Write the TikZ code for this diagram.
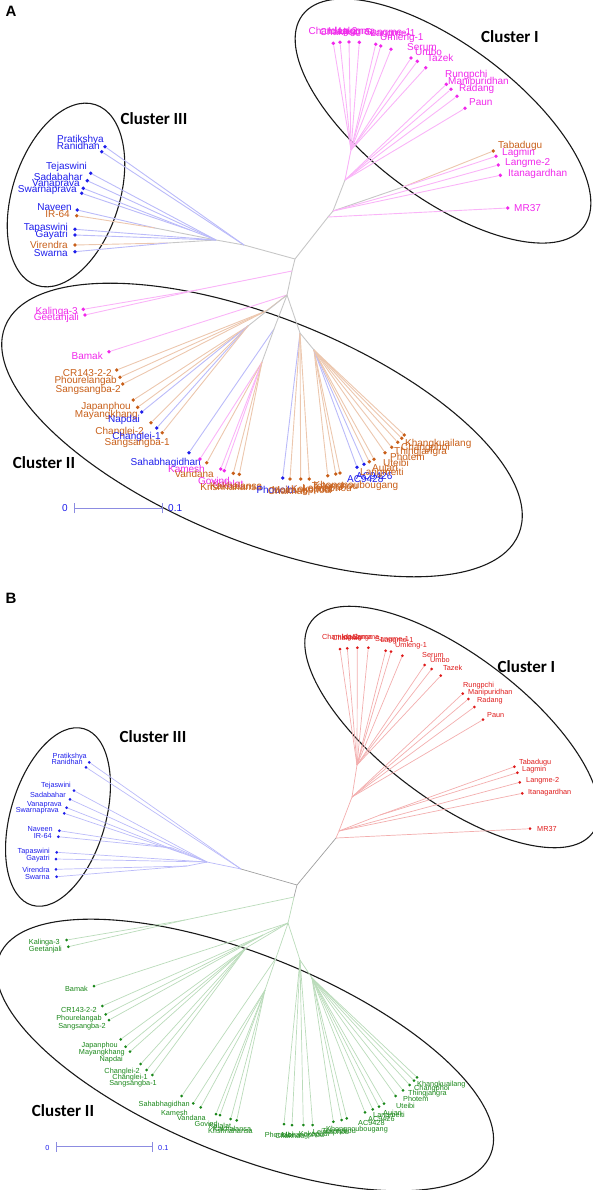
\documentclass[tikz,border=0pt]{standalone}
\usepackage{fontspec}
\setmainfont{Liberation Sans}
\newfontfamily\clusterfont{Carlito}
\usetikzlibrary{shapes.geometric}

\definecolor{magA}{RGB}{240,40,235}
\definecolor{bluA}{RGB}{30,30,235}
\definecolor{orgA}{RGB}{200,95,25}
\definecolor{redB}{RGB}{222,25,25}
\definecolor{grnB}{RGB}{25,135,25}
\definecolor{barC}{RGB}{140,140,225}
\colorlet{magE}{magA!35}
\colorlet{bluE}{bluA!30}
\colorlet{orgE}{orgA!35}
\colorlet{redE}{redB!35}
\colorlet{grnE}{grnB!30}
\colorlet{grE}{black!22}
\colorlet{grBE}{black!38}

\begin{document}
\begin{tikzpicture}[x=1pt, y=-1pt,
  lfA/.style={circle, fill=#1, inner sep=0pt, minimum size=3.8pt},
  lfB/.style={circle, fill=#1, inner sep=0pt, minimum size=3pt},
  txA/.style={font=\fontsize{10}{11}\selectfont, inner sep=0pt, text=#1},
  txB/.style={font=\fontsize{7.3}{8}\selectfont, inner sep=0pt, text=#1},
  edA/.style={draw=#1, line width=0.9pt},
  edB/.style={draw=#1, line width=0.7pt},
  clus/.style={draw=black!90, ellipse, line width=1.1pt, inner sep=0pt},
  ctitle/.style={font=\clusterfont\bfseries\fontsize{17}{17}\selectfont},
  tag/.style={font=\bfseries\fontsize{15}{15}\selectfont}]
\useasboundingbox (0,0) rectangle (593,1190);

% ================= panel A =================
\node[tag] (a-tag) at (11,11) {A};

% inner points of the tree
\coordinate (a-p1) at (295,259);
\coordinate (a-c3) at (244,245);
\coordinate (a-c3b) at (216,240);
\coordinate (a-vp) at (190,230);
\coordinate (a-nv) at (155,228);
\coordinate (a-vs) at (168,243);
\coordinate (a-i0) at (328,217);
\coordinate (a-i1) at (333,211);
\coordinate (a-i2) at (403,187);
\coordinate (a-i3) at (345,180);
\coordinate (a-i4) at (351,150);
\coordinate (a-kg) at (292,271);
\coordinate (a-kg2) at (197,290);
\coordinate (a-p2) at (287,295);
\coordinate (a-q1) at (266,311);
\coordinate (a-q2) at (248,326);
\coordinate (a-q3) at (274,329);
\coordinate (a-q3b) at (262,362);
\coordinate (a-q4) at (300,333);
\coordinate (a-q5) at (314,350);

% cluster ellipses
\node[clus, minimum width=352pt, minimum height=152pt, rotate=-37] (a-e1) at (443,121) {};
\node[clus, minimum width=190pt, minimum height=107pt, rotate=72] (a-e3) at (66,195) {};
\node[clus, minimum width=554pt, minimum height=224pt, rotate=-22] (a-e2) at (262,430) {};
\node[ctitle] (a-cl1) at (510,37) {Cluster I};
\node[ctitle] (a-cl3) at (154,119) {Cluster III};
\node[ctitle] (a-cl2) at (44,463) {Cluster II};

% cluster III leaves
\node[lfA=bluA] (a-prat) at (105,146.7) {};
\node[txA=bluA, anchor=east] (a-prat-t) at (104,140) {Pratikshya};
\node[lfA=bluA] (a-rani) at (101.7,151.7) {};
\node[txA=bluA, anchor=east] (a-rani-t) at (100,145.7) {Ranidhan};
\node[lfA=bluA] (a-teja) at (90.7,173.3) {};
\node[txA=bluA, anchor=east] (a-teja-t) at (87,167.3) {Tejaswini};
\node[lfA=bluA] (a-sada) at (87.3,180.7) {};
\node[txA=bluA, anchor=east] (a-sada-t) at (83,176.7) {Sadabahar};
\node[lfA=bluA] (a-vana) at (83.3,188.3) {};
\node[txA=bluA, anchor=east] (a-vana-t) at (80,184) {Vanaprava};
\node[lfA=bluA] (a-swpr) at (81.7,193.3) {};
\node[txA=bluA, anchor=east] (a-swpr-t) at (77,190) {Swarnaprava};
\node[lfA=bluA] (a-nave) at (77.3,210) {};
\node[txA=bluA, anchor=east] (a-nave-t) at (72,206.7) {Naveen};
\node[lfA=orgA] (a-ir64) at (76.7,215.7) {};
\node[txA=orgA, anchor=east] (a-ir64-t) at (70,214.3) {IR-64};
\node[lfA=bluA] (a-tapa) at (75,229.3) {};
\node[txA=bluA, anchor=east] (a-tapa-t) at (68,227.7) {Tapaswini};
\node[lfA=bluA] (a-gaya) at (75,235) {};
\node[txA=bluA, anchor=east] (a-gaya-t) at (68,235) {Gayatri};
\node[lfA=orgA] (a-vire) at (75,245) {};
\node[txA=orgA, anchor=east] (a-vire-t) at (68,245) {Virendra};
\node[lfA=bluA] (a-swar) at (75,251.7) {};
\node[txA=bluA, anchor=east] (a-swar-t) at (68,252.7) {Swarna};

% cluster I leaves
\node[lfA=magA] (a-t1) at (333.3,43.3) {};
\node[txA=magA] (a-t1-t) at (333,32) {Chamleg-2};
\node[lfA=magA] (a-t2) at (340,42.3) {};
\node[txA=magA] (a-t2-t) at (340,32) {Chakhao};
\node[lfA=magA] (a-t3) at (349,42) {};
\node[txA=magA] (a-t3-t) at (349,32) {Idaalgma};
\node[lfA=magA] (a-t4) at (359.3,42.3) {};
\node[txA=magA] (a-t4-t) at (357,32) {Langma};
\node[lfA=magA] (a-t5) at (375.7,44.3) {};
\node[txA=magA] (a-t5-t) at (388,33.3) {Sangme-1};
\node[lfA=magA] (a-t6) at (380.7,46) {};
\node[txA=magA] (a-t6-t) at (393,34) {Langme-1};
\node[lfA=magA] (a-umle) at (391,49.3) {};
\node[txA=magA, anchor=west] (a-umle-t) at (380,38.3) {Umleng-1};
\node[lfA=magA] (a-seru) at (411,58) {};
\node[txA=magA, anchor=west] (a-seru-t) at (407,46.7) {Serum};
\node[lfA=magA] (a-umbo) at (417.3,61.3) {};
\node[txA=magA, anchor=west] (a-umbo-t) at (415,51.7) {Umbo};
\node[lfA=magA] (a-taze) at (425.7,67.7) {};
\node[txA=magA, anchor=west] (a-taze-t) at (427,58) {Tazek};
\node[lfA=magA] (a-rung) at (446.3,84.3) {};
\node[txA=magA, anchor=west] (a-rung-t) at (445,75) {Rungpchi};
\node[lfA=magA] (a-mani) at (451,89.3) {};
\node[txA=magA, anchor=west] (a-mani-t) at (448,81.7) {Manipuridhan};
\node[lfA=magA] (a-rada) at (457,96.3) {};
\node[txA=magA, anchor=west] (a-rada-t) at (459,89.3) {Radang};
\node[lfA=magA] (a-paun) at (465,108.3) {};
\node[txA=magA, anchor=west] (a-paun-t) at (469,101.7) {Paun};
\node[lfA=orgA] (a-taba) at (493.3,151) {};
\node[txA=orgA, anchor=west] (a-taba-t) at (498,145.7) {Tabadugu};
\node[lfA=magA] (a-lagm) at (496,156.3) {};
\node[txA=magA, anchor=west] (a-lagm-t) at (502,153.3) {Lagmin};
\node[lfA=magA] (a-lan2) at (498.3,165) {};
\node[txA=magA, anchor=west] (a-lan2-t) at (505,163.3) {Langme-2};
\node[lfA=magA] (a-itan) at (500.3,175.3) {};
\node[txA=magA, anchor=west] (a-itan-t) at (508,174) {Itanagardhan};
\node[lfA=magA] (a-mr37) at (507.7,208) {};
\node[txA=magA, anchor=west] (a-mr37-t) at (514,207.7) {MR37};

% cluster II leaves
\node[lfA=magA] (a-kal3) at (83.3,309.3) {};
\node[txA=magA, anchor=east] (a-kal3-t) at (78,312.3) {Kalinga-3};
\node[lfA=magA] (a-geet) at (85,315) {};
\node[txA=magA, anchor=east] (a-geet-t) at (79,318.3) {Geetanjali};
\node[lfA=magA] (a-bama) at (109,351.7) {};
\node[txA=magA, anchor=east] (a-bama-t) at (103,355.7) {Bamak};
\node[lfA=orgA] (a-cr14) at (116.7,370) {};
\node[txA=orgA, anchor=east] (a-cr14-t) at (112,373.3) {CR143-2-2};
\node[lfA=orgA] (a-phou) at (120,377.3) {};
\node[txA=orgA, anchor=east] (a-phou-t) at (117,380.7) {Phourelangab};
\node[lfA=orgA] (a-san2) at (122.7,384) {};
\node[txA=orgA, anchor=east] (a-san2-t) at (121,390) {Sangsangba-2};
\node[lfA=orgA] (a-japa) at (133.3,400) {};
\node[txA=orgA, anchor=east] (a-japa-t) at (131,407.3) {Japanphou};
\node[lfA=orgA] (a-maya) at (137.7,407.3) {};
\node[txA=orgA, anchor=east] (a-maya-t) at (138,415) {Mayangkhang};
\node[lfA=bluA] (a-napd) at (141.7,412) {};
\node[txA=bluA, anchor=east] (a-napd-t) at (140,420) {Napdai};
\node[lfA=orgA] (a-cha2) at (151,422.7) {};
\node[txA=orgA, anchor=east] (a-cha2-t) at (144,431.7) {Changlei-2};
\node[lfA=bluA] (a-cha1) at (156.7,428) {};
\node[txA=bluA, anchor=east] (a-cha1-t) at (161,436.7) {Changlei-1};
\node[lfA=orgA] (a-san1) at (162.3,432.7) {};
\node[txA=orgA, anchor=east] (a-san1-t) at (170,442.7) {Sangsangba-1};
\node[lfA=bluA] (a-saha) at (189,452.7) {};
\node[txA=bluA, anchor=east] (a-saha-t) at (201,462.7) {Sahabhagidhan};
\node[lfA=magA] (a-kame) at (200,459) {};
\node[txA=magA, anchor=east] (a-kame-t) at (205,469.3) {Kamesh};
\node[lfA=orgA] (a-vand) at (206.7,462.7) {};
\node[txA=orgA, anchor=east] (a-vand-t) at (214,474.3) {Vandana};
\node[lfA=magA] (a-govi) at (220.7,469) {};
\node[txA=magA, anchor=east] (a-govi-t) at (230,481) {Govind};
\node[lfA=magA] (a-kala) at (224.3,470.7) {};
\node[txA=magA] (a-kala-t) at (228,484) {Kalalat};
\node[lfA=orgA] (a-kakh) at (233.3,473.3) {};
\node[txA=orgA] (a-kakh-t) at (236,486) {Kakhalansa};
\node[lfA=orgA] (a-kris) at (239.3,474.3) {};
\node[txA=orgA] (a-kris-t) at (231,487) {Krishnahansa};
\node[lfA=bluA] (a-b1) at (282.7,478) {};
\node[txA=bluA] (a-b1-t) at (276,490) {Phouoibi};
\node[lfA=orgA] (a-b2) at (290,479) {};
\node[txA=orgA] (a-b2-t) at (288,491) {Chakhao};
\node[lfA=orgA] (a-b3) at (300.7,479) {};
\node[txA=orgA] (a-b3-t) at (301,491) {Moirangphou};
\node[lfA=orgA] (a-b4) at (309.3,479) {};
\node[txA=orgA] (a-b4-t) at (312,490) {Kokopudi};
\node[lfA=orgA] (a-b5) at (327.7,475.7) {};
\node[txA=orgA] (a-b5-t) at (327,489) {Leimaphou};
\node[lfA=orgA] (a-b6) at (335.7,474) {};
\node[txA=orgA] (a-b6-t) at (335,487) {Tolenphou};
\node[lfA=orgA] (a-b7) at (340,473) {};
\node[txA=orgA] (a-b7-t) at (356,486) {Khongnoubougang};
\node[lfA=bluA] (a-ac28) at (357,467.3) {};
\node[txA=bluA, anchor=west] (a-ac28-t) at (347,479) {AC9428};
\node[lfA=bluA] (a-ac26) at (364,464.3) {};
\node[txA=bluA, anchor=west] (a-ac26-t) at (356,476) {AC9426};
\node[lfA=orgA] (a-lmei) at (369.3,461.7) {};
\node[txA=orgA, anchor=west] (a-lmei-t) at (360,473) {Langmeiti};
\node[lfA=orgA] (a-auja) at (374,459.3) {};
\node[txA=orgA, anchor=west] (a-auja-t) at (372,469) {Aujari};
\node[lfA=orgA] (a-utei) at (385,452.7) {};
\node[txA=orgA, anchor=west] (a-utei-t) at (383,463) {Uteibi};
\node[lfA=orgA] (a-phot) at (391.7,447.3) {};
\node[txA=orgA, anchor=west] (a-phot-t) at (390,457) {Photem};
\node[lfA=orgA] (a-thin) at (397.7,442.3) {};
\node[txA=orgA, anchor=west] (a-thin-t) at (394,451.7) {Thingjangra};
\node[lfA=orgA] (a-chph) at (401.7,438.3) {};
\node[txA=orgA, anchor=west] (a-chph-t) at (401,447.7) {Changphoi};
\node[lfA=orgA] (a-khan) at (404.3,435) {};
\node[txA=orgA, anchor=west] (a-khan-t) at (405,444) {Khangkuailang};

% branches, panel A
\draw[edA=grE] (a-p1) -- (a-c3);
\draw[edA=grE] (a-c3) -- (a-c3b);
\draw[edA=grE] (a-c3b) -- (a-nv);
\draw[edA=grE] (a-c3b) -- (a-vs);
\draw[edA=bluE] (a-c3b) -- (a-vp);
\draw[edA=bluE] (a-c3) -- (a-prat);
\draw[edA=bluE] (a-c3) -- (a-rani);
\draw[edA=bluE] (a-c3b) -- (a-teja);
\draw[edA=bluE] (a-c3b) -- (a-sada);
\draw[edA=bluE] (a-vp) -- (a-vana);
\draw[edA=bluE] (a-vp) -- (a-swpr);
\draw[edA=bluE] (a-nv) -- (a-nave);
\draw[edA=orgE] (a-nv) -- (a-ir64);
\draw[edA=bluE] (a-c3b) -- (a-tapa);
\draw[edA=bluE] (a-c3b) -- (a-gaya);
\draw[edA=orgE] (a-vs) -- (a-vire);
\draw[edA=bluE] (a-vs) -- (a-swar);
\draw[edA=grE] (a-p1) -- (a-i0);
\draw[edA=grE] (a-i0) -- (a-i1);
\draw[edA=grE] (a-i1) -- (a-i2);
\draw[edA=grE] (a-i1) -- (a-i3);
\draw[edA=magE] (a-i3) -- (a-i4);
\draw[edA=magE] (a-i0) -- (a-mr37);
\draw[edA=orgE] (a-i2) -- (a-taba);
\draw[edA=magE] (a-i2) -- (a-lagm);
\draw[edA=magE] (a-i1) -- (a-lan2);
\draw[edA=magE] (a-i1) -- (a-itan);
\draw[edA=magE] (a-i3) -- (a-rung);
\draw[edA=magE] (a-i3) -- (a-mani);
\draw[edA=magE] (a-i3) -- (a-rada);
\draw[edA=magE] (a-i3) -- (a-paun);
\draw[edA=magE] (a-i4) -- (a-t1);
\draw[edA=magE] (a-i4) -- (a-t2);
\draw[edA=magE] (a-i4) -- (a-t3);
\draw[edA=magE] (a-i4) -- (a-t4);
\draw[edA=magE] (a-i4) -- (a-t5);
\draw[edA=magE] (a-i4) -- (a-t6);
\draw[edA=magE] (a-i4) -- (a-umle);
\draw[edA=magE] (a-i4) -- (a-seru);
\draw[edA=magE] (a-i4) -- (a-umbo);
\draw[edA=magE] (a-i4) -- (a-taze);
\draw[edA=grE] (a-p1) -- (a-kg);
\draw[edA=grE] (a-kg) -- (a-p2);
\draw[edA=magE] (a-kg) -- (a-kg2);
\draw[edA=magE] (a-kg2) -- (a-kal3);
\draw[edA=magE] (a-kg2) -- (a-geet);
\draw[edA=magE] (a-p2) -- (a-bama);
\draw[edA=orgE] (a-p2) -- (a-q1);
\draw[edA=orgE] (a-q1) -- (a-cr14);
\draw[edA=orgE] (a-q1) -- (a-phou);
\draw[edA=orgE] (a-q1) -- (a-san2);
\draw[edA=grE] (a-p2) -- (a-q2);
\draw[edA=orgE] (a-q2) -- (a-japa);
\draw[edA=orgE] (a-q2) -- (a-maya);
\draw[edA=bluE] (a-q2) -- (a-napd);
\draw[edA=orgE] (a-q2) -- (a-cha2);
\draw[edA=bluE] (a-q2) -- (a-cha1);
\draw[edA=orgE] (a-q2) -- (a-san1);
\draw[edA=grE] (a-p2) -- (a-q3);
\draw[edA=bluE] (a-q3) -- (a-saha);
\draw[edA=grE] (a-q3) -- (a-q3b);
\draw[edA=magE] (a-q3b) -- (a-kame);
\draw[edA=orgE] (a-q3b) -- (a-vand);
\draw[edA=magE] (a-q3b) -- (a-govi);
\draw[edA=magE] (a-q3b) -- (a-kala);
\draw[edA=orgE] (a-q3b) -- (a-kakh);
\draw[edA=orgE] (a-q3b) -- (a-kris);
\draw[edA=grE] (a-p2) -- (a-q4);
\draw[edA=bluE] (a-q4) -- (a-b1);
\draw[edA=orgE] (a-q4) -- (a-b2);
\draw[edA=orgE] (a-q4) -- (a-b3);
\draw[edA=orgE] (a-q4) -- (a-b4);
\draw[edA=grE] (a-q4) -- (a-q5);
\draw[edA=orgE] (a-q5) -- (a-b5);
\draw[edA=orgE] (a-q5) -- (a-b6);
\draw[edA=orgE] (a-q5) -- (a-b7);
\draw[edA=bluE] (a-q5) -- (a-ac28);
\draw[edA=bluE] (a-q5) -- (a-ac26);
\draw[edA=orgE] (a-q5) -- (a-lmei);
\draw[edA=orgE] (a-q5) -- (a-auja);
\draw[edA=orgE] (a-q5) -- (a-utei);
\draw[edA=orgE] (a-q5) -- (a-phot);
\draw[edA=orgE] (a-q5) -- (a-thin);
\draw[edA=orgE] (a-q5) -- (a-chph);
\draw[edA=orgE] (a-q5) -- (a-khan);

% scale bar A
\coordinate (a-s0) at (74,508.3);
\coordinate (a-s1) at (162.3,508.3);
\draw[barC, line width=0.8pt] (a-s0) -- (a-s1);
\draw[barC, line width=0.8pt] ([yshift=-5pt]a-s0) -- ([yshift=5pt]a-s0);
\draw[barC, line width=0.8pt] ([yshift=-5pt]a-s1) -- ([yshift=5pt]a-s1);
\node[txA=bluA] (a-s0-t) at (65,508.3) {0};
\node[txA=bluA, anchor=west] (a-s1-t) at (168,508.3) {0.1};

% ================= panel B =================
\node[tag] (b-tag) at (11,598) {B};

\coordinate (b-p1) at (297,885);
\coordinate (b-c3) at (241,869);
\coordinate (b-c3b) at (207,862);
\coordinate (b-vp) at (182,853);
\coordinate (b-nv) at (172,848);
\coordinate (b-vs) at (187,866);
\coordinate (b-i0) at (336,838);
\coordinate (b-i1) at (339,831);
\coordinate (b-i2) at (380,815);
\coordinate (b-i3) at (352,797);
\coordinate (b-i4) at (357,765);
\coordinate (b-kg) at (294,897);
\coordinate (b-kg2) at (185,920);
\coordinate (b-p2) at (288,923);
\coordinate (b-q1) at (263,935);
\coordinate (b-q2) at (246,948);
\coordinate (b-q3) at (276,958);
\coordinate (b-q3b) at (265,990);
\coordinate (b-q4) at (300,960);
\coordinate (b-q5) at (312,978);

\node[clus, minimum width=352pt, minimum height=145pt, rotate=-37] (b-e1) at (452,727) {};
\node[clus, minimum width=184pt, minimum height=95pt, rotate=73.6] (b-e3) at (58,817) {};
\node[clus, minimum width=530pt, minimum height=200pt, rotate=-22] (b-e2) at (245,1055) {};
\node[ctitle] (b-cl1) at (526.5,667) {Cluster I};
\node[ctitle] (b-cl3) at (153,737) {Cluster III};
\node[ctitle] (b-cl2) at (63,1111) {Cluster II};

% cluster III leaves
\node[lfB=bluA] (b-prat) at (89.3,762.3) {};
\node[txB=bluA, anchor=east] (b-prat-t) at (87,756.7) {Pratikshya};
\node[lfB=bluA] (b-rani) at (86,767.3) {};
\node[txB=bluA, anchor=east] (b-rani-t) at (83,761.7) {Ranidhan};
\node[lfB=bluA] (b-teja) at (74,790.7) {};
\node[txB=bluA, anchor=east] (b-teja-t) at (71,786) {Tejaswini};
\node[lfB=bluA] (b-sada) at (70,799.3) {};
\node[txB=bluA, anchor=east] (b-sada-t) at (66,795) {Sadabahar};
\node[lfB=bluA] (b-vana) at (66.7,807.7) {};
\node[txB=bluA, anchor=east] (b-vana-t) at (62,804.7) {Vanaprava};
\node[lfB=bluA] (b-swpr) at (64.3,813.3) {};
\node[txB=bluA, anchor=east] (b-swpr-t) at (59,810.7) {Swarnaprava};
\node[lfB=bluA] (b-nave) at (59.3,830.7) {};
\node[txB=bluA, anchor=east] (b-nave-t) at (53,828.7) {Naveen};
\node[lfB=bluA] (b-ir64) at (58.3,836.7) {};
\node[txB=bluA, anchor=east] (b-ir64-t) at (52,835.7) {IR-64};
\node[lfB=bluA] (b-tapa) at (56.7,852.3) {};
\node[txB=bluA, anchor=east] (b-tapa-t) at (50,851.3) {Tapaswini};
\node[lfB=bluA] (b-gaya) at (56,859) {};
\node[txB=bluA, anchor=east] (b-gaya-t) at (50,859) {Gayatri};
\node[lfB=bluA] (b-vire) at (56,869.3) {};
\node[txB=bluA, anchor=east] (b-vire-t) at (50,870) {Virendra};
\node[lfB=bluA] (b-swar) at (56.7,876.7) {};
\node[txB=bluA, anchor=east] (b-swar-t) at (50,877.3) {Swarna};

% cluster I leaves
\node[lfB=redB] (b-t1) at (340,649) {};
\node[txB=redB] (b-t1-t) at (340,638) {Chamleg-2};
\node[lfB=redB] (b-t2) at (347.3,648.3) {};
\node[txB=redB] (b-t2-t) at (347,638) {Chakhao};
\node[lfB=redB] (b-t3) at (357.3,647.7) {};
\node[txB=redB] (b-t3-t) at (357,638) {Idaalgma};
\node[lfB=redB] (b-t4) at (368.3,647.7) {};
\node[txB=redB] (b-t4-t) at (366,638) {Langma};
\node[lfB=redB] (b-t5) at (385.7,650.7) {};
\node[txB=redB] (b-t5-t) at (392,640) {Sangme-1};
\node[lfB=redB] (b-t6) at (391,651.7) {};
\node[txB=redB] (b-t6-t) at (397,641) {Langme-1};
\node[lfB=redB] (b-umle) at (402.3,655.7) {};
\node[txB=redB, anchor=west] (b-umle-t) at (395,646) {Umleng-1};
\node[lfB=redB] (b-seru) at (424.7,665) {};
\node[txB=redB, anchor=west] (b-seru-t) at (422,655) {Serum};
\node[lfB=redB] (b-umbo) at (431.7,669) {};
\node[txB=redB, anchor=west] (b-umbo-t) at (430,660) {Umbo};
\node[lfB=redB] (b-taze) at (440.7,675.7) {};
\node[txB=redB, anchor=west] (b-taze-t) at (443,667.7) {Tazek};
\node[lfB=redB] (b-rung) at (462.7,693.7) {};
\node[txB=redB, anchor=west] (b-rung-t) at (463,686) {Rungpchi};
\node[lfB=redB] (b-mani) at (468.3,699) {};
\node[txB=redB, anchor=west] (b-mani-t) at (468,692.3) {Manipuridhan};
\node[lfB=redB] (b-rada) at (474.3,707) {};
\node[txB=redB, anchor=west] (b-rada-t) at (477,700.3) {Radang};
\node[lfB=redB] (b-paun) at (483,719.7) {};
\node[txB=redB, anchor=west] (b-paun-t) at (487,715) {Paun};
\node[lfB=redB] (b-taba) at (514.3,766.7) {};
\node[txB=redB, anchor=west] (b-taba-t) at (519,762.3) {Tabadugu};
\node[lfB=redB] (b-lagm) at (517.3,772.7) {};
\node[txB=redB, anchor=west] (b-lagm-t) at (522,770) {Lagmin};
\node[lfB=redB] (b-lan2) at (519.7,782.3) {};
\node[txB=redB, anchor=west] (b-lan2-t) at (526,780.7) {Langme-2};
\node[lfB=redB] (b-itan) at (522.3,793.3) {};
\node[txB=redB, anchor=west] (b-itan-t) at (528,792.3) {Itanagardhan};
\node[lfB=redB] (b-mr37) at (530,828.7) {};
\node[txB=redB, anchor=west] (b-mr37-t) at (537,828.7) {MR37};

% cluster II leaves
\node[lfB=grnB] (b-kal3) at (66.7,940) {};
\node[txB=grnB, anchor=east] (b-kal3-t) at (60,942.7) {Kalinga-3};
\node[lfB=grnB] (b-geet) at (68.3,946.7) {};
\node[txB=grnB, anchor=east] (b-geet-t) at (62,949.3) {Geetanjali};
\node[lfB=grnB] (b-bama) at (94,986) {};
\node[txB=grnB, anchor=east] (b-bama-t) at (88,989.3) {Bamak};
\node[lfB=grnB] (b-cr14) at (102.3,1006) {};
\node[txB=grnB, anchor=east] (b-cr14-t) at (97,1010) {CR143-2-2};
\node[lfB=grnB] (b-phou) at (105.7,1014.3) {};
\node[txB=grnB, anchor=east] (b-phou-t) at (102,1019) {Phourelangab};
\node[lfB=grnB] (b-san2) at (109,1020) {};
\node[txB=grnB, anchor=east] (b-san2-t) at (106,1026.7) {Sangsangba-2};
\node[lfB=grnB] (b-japa) at (120.7,1039.3) {};
\node[txB=grnB, anchor=east] (b-japa-t) at (118,1046) {Japanphou};
\node[lfB=grnB] (b-maya) at (125.7,1046.7) {};
\node[txB=grnB, anchor=east] (b-maya-t) at (125,1052.7) {Mayangkhang};
\node[lfB=grnB] (b-napd) at (130,1051.7) {};
\node[txB=grnB, anchor=east] (b-napd-t) at (123,1059.3) {Napdai};
\node[lfB=grnB] (b-cha2) at (140.7,1064) {};
\node[txB=grnB, anchor=east] (b-cha2-t) at (140,1071.7) {Changlei-2};
\node[lfB=grnB] (b-cha1) at (146.7,1070) {};
\node[txB=grnB, anchor=east] (b-cha1-t) at (148,1077.7) {Changlei-1};
\node[lfB=grnB] (b-san1) at (152.3,1075) {};
\node[txB=grnB, anchor=east] (b-san1-t) at (157,1083.3) {Sangsangba-1};
\node[lfB=grnB] (b-saha) at (181.7,1096) {};
\node[txB=grnB, anchor=east] (b-saha-t) at (190,1104.3) {Sahabhagidhan};
\node[lfB=grnB] (b-kame) at (193.3,1103.3) {};
\node[txB=grnB, anchor=east] (b-kame-t) at (188,1112.7) {Kamesh};
\node[lfB=grnB] (b-vand) at (200.7,1107.3) {};
\node[txB=grnB, anchor=east] (b-vand-t) at (206,1117.7) {Vandana};
\node[lfB=grnB] (b-govi) at (216,1114) {};
\node[txB=grnB, anchor=east] (b-govi-t) at (218,1124) {Govind};
\node[lfB=grnB] (b-kala) at (220,1115) {};
\node[txB=grnB] (b-kala-t) at (220,1126) {Kalalat};
\node[lfB=grnB] (b-kakh) at (230.7,1119) {};
\node[txB=grnB] (b-kakh-t) at (232,1129) {Kakhalansa};
\node[lfB=grnB] (b-kris) at (236.7,1120.3) {};
\node[txB=grnB, anchor=east] (b-kris-t) at (253,1130.7) {Krishnahansa};
\node[lfB=grnB] (b-b1) at (284,1124) {};
\node[txB=grnB] (b-b1-t) at (279,1135) {Phouoibi};
\node[lfB=grnB] (b-b2) at (292,1125) {};
\node[txB=grnB] (b-b2-t) at (290,1136) {Chakhao};
\node[lfB=grnB] (b-b3) at (303.3,1125) {};
\node[txB=grnB] (b-b3-t) at (303,1136) {Moirangphou};
\node[lfB=grnB] (b-b4) at (312.7,1125) {};
\node[txB=grnB] (b-b4-t) at (314,1135) {Kokopudi};
\node[lfB=grnB] (b-b5) at (333.3,1121.7) {};
\node[txB=grnB] (b-b5-t) at (331,1133) {Leimaphou};
\node[lfB=grnB] (b-b6) at (341.7,1120) {};
\node[txB=grnB] (b-b6-t) at (339,1131.5) {Tolenphou};
\node[lfB=grnB] (b-b7) at (346.7,1118.3) {};
\node[txB=grnB] (b-b7-t) at (357,1130) {Khongnoubougang};
\node[lfB=grnB] (b-ac28) at (365,1112.3) {};
\node[txB=grnB, anchor=west] (b-ac28-t) at (358,1123.3) {AC9428};
\node[lfB=grnB] (b-ac26) at (372.7,1109.3) {};
\node[txB=grnB, anchor=west] (b-ac26-t) at (368,1119.3) {AC9426};
\node[lfB=grnB] (b-lmei) at (379,1106.7) {};
\node[txB=grnB, anchor=west] (b-lmei-t) at (373,1116) {Langmeiti};
\node[lfB=grnB] (b-auja) at (384,1103.7) {};
\node[txB=grnB, anchor=west] (b-auja-t) at (383,1113.3) {Aujari};
\node[lfB=grnB] (b-utei) at (395.7,1096) {};
\node[txB=grnB, anchor=west] (b-utei-t) at (396,1105.7) {Uteibi};
\node[lfB=grnB] (b-phot) at (403,1090.3) {};
\node[txB=grnB, anchor=west] (b-phot-t) at (403,1099) {Photem};
\node[lfB=grnB] (b-thin) at (409.7,1085) {};
\node[txB=grnB, anchor=west] (b-thin-t) at (408,1093.3) {Thingjangra};
\node[lfB=grnB] (b-chph) at (414,1080.7) {};
\node[txB=grnB, anchor=west] (b-chph-t) at (414,1089) {Changphoi};
\node[lfB=grnB] (b-khan) at (417,1077.3) {};
\node[txB=grnB, anchor=west] (b-khan-t) at (417,1085) {Khangkuailang};

% branches, panel B
\draw[edB=grBE] (b-p1) -- (b-c3);
\draw[edB=bluE] (b-c3) -- (b-c3b);
\draw[edB=bluE] (b-c3b) -- (b-nv);
\draw[edB=bluE] (b-c3b) -- (b-vs);
\draw[edB=bluE] (b-c3b) -- (b-vp);
\draw[edB=bluE] (b-c3) -- (b-prat);
\draw[edB=bluE] (b-c3) -- (b-rani);
\draw[edB=bluE] (b-c3b) -- (b-teja);
\draw[edB=bluE] (b-c3b) -- (b-sada);
\draw[edB=bluE] (b-vp) -- (b-vana);
\draw[edB=bluE] (b-vp) -- (b-swpr);
\draw[edB=bluE] (b-nv) -- (b-nave);
\draw[edB=bluE] (b-nv) -- (b-ir64);
\draw[edB=bluE] (b-c3b) -- (b-tapa);
\draw[edB=bluE] (b-c3b) -- (b-gaya);
\draw[edB=bluE] (b-vs) -- (b-vire);
\draw[edB=bluE] (b-vs) -- (b-swar);
\draw[edB=grBE] (b-p1) -- (b-i0);
\draw[edB=redE] (b-i0) -- (b-i1);
\draw[edB=redE] (b-i1) -- (b-i2);
\draw[edB=redE] (b-i1) -- (b-i3);
\draw[edB=redE] (b-i3) -- (b-i4);
\draw[edB=redE] (b-i0) -- (b-mr37);
\draw[edB=redE] (b-i2) -- (b-taba);
\draw[edB=redE] (b-i2) -- (b-lagm);
\draw[edB=redE] (b-i1) -- (b-lan2);
\draw[edB=redE] (b-i1) -- (b-itan);
\draw[edB=redE] (b-i3) -- (b-rung);
\draw[edB=redE] (b-i3) -- (b-mani);
\draw[edB=redE] (b-i3) -- (b-rada);
\draw[edB=redE] (b-i3) -- (b-paun);
\draw[edB=redE] (b-i4) -- (b-t1);
\draw[edB=redE] (b-i4) -- (b-t2);
\draw[edB=redE] (b-i4) -- (b-t3);
\draw[edB=redE] (b-i4) -- (b-t4);
\draw[edB=redE] (b-i4) -- (b-t5);
\draw[edB=redE] (b-i4) -- (b-t6);
\draw[edB=redE] (b-i4) -- (b-umle);
\draw[edB=redE] (b-i4) -- (b-seru);
\draw[edB=redE] (b-i4) -- (b-umbo);
\draw[edB=redE] (b-i4) -- (b-taze);
\draw[edB=grBE] (b-p1) -- (b-kg);
\draw[edB=grnE] (b-kg) -- (b-p2);
\draw[edB=grnE] (b-kg) -- (b-kg2);
\draw[edB=grnE] (b-kg2) -- (b-kal3);
\draw[edB=grnE] (b-kg2) -- (b-geet);
\draw[edB=grnE] (b-p2) -- (b-bama);
\draw[edB=grnE] (b-p2) -- (b-q1);
\draw[edB=grnE] (b-q1) -- (b-cr14);
\draw[edB=grnE] (b-q1) -- (b-phou);
\draw[edB=grnE] (b-q1) -- (b-san2);
\draw[edB=grnE] (b-p2) -- (b-q2);
\draw[edB=grnE] (b-q2) -- (b-japa);
\draw[edB=grnE] (b-q2) -- (b-maya);
\draw[edB=grnE] (b-q2) -- (b-napd);
\draw[edB=grnE] (b-q2) -- (b-cha2);
\draw[edB=grnE] (b-q2) -- (b-cha1);
\draw[edB=grnE] (b-q2) -- (b-san1);
\draw[edB=grnE] (b-p2) -- (b-q3);
\draw[edB=grnE] (b-q3) -- (b-saha);
\draw[edB=grnE] (b-q3) -- (b-q3b);
\draw[edB=grnE] (b-q3b) -- (b-kame);
\draw[edB=grnE] (b-q3b) -- (b-vand);
\draw[edB=grnE] (b-q3b) -- (b-govi);
\draw[edB=grnE] (b-q3b) -- (b-kala);
\draw[edB=grnE] (b-q3b) -- (b-kakh);
\draw[edB=grnE] (b-q3b) -- (b-kris);
\draw[edB=grnE] (b-p2) -- (b-q4);
\draw[edB=grnE] (b-q4) -- (b-b1);
\draw[edB=grnE] (b-q4) -- (b-b2);
\draw[edB=grnE] (b-q4) -- (b-b3);
\draw[edB=grnE] (b-q4) -- (b-b4);
\draw[edB=grnE] (b-q4) -- (b-q5);
\draw[edB=grnE] (b-q5) -- (b-b5);
\draw[edB=grnE] (b-q5) -- (b-b6);
\draw[edB=grnE] (b-q5) -- (b-b7);
\draw[edB=grnE] (b-q5) -- (b-ac28);
\draw[edB=grnE] (b-q5) -- (b-ac26);
\draw[edB=grnE] (b-q5) -- (b-lmei);
\draw[edB=grnE] (b-q5) -- (b-auja);
\draw[edB=grnE] (b-q5) -- (b-utei);
\draw[edB=grnE] (b-q5) -- (b-phot);
\draw[edB=grnE] (b-q5) -- (b-thin);
\draw[edB=grnE] (b-q5) -- (b-chph);
\draw[edB=grnE] (b-q5) -- (b-khan);

% scale bar B
\coordinate (b-s0) at (56,1146.7);
\coordinate (b-s1) at (152.3,1146.7);
\draw[barC, line width=0.7pt] (b-s0) -- (b-s1);
\draw[barC, line width=0.7pt] ([yshift=-5pt]b-s0) -- ([yshift=5pt]b-s0);
\draw[barC, line width=0.7pt] ([yshift=-5pt]b-s1) -- ([yshift=5pt]b-s1);
\node[txB=bluA] (b-s0-t) at (47.3,1147.7) {0};
\node[txB=bluA, anchor=west] (b-s1-t) at (158,1147.7) {0.1};
\end{tikzpicture}
\end{document}
